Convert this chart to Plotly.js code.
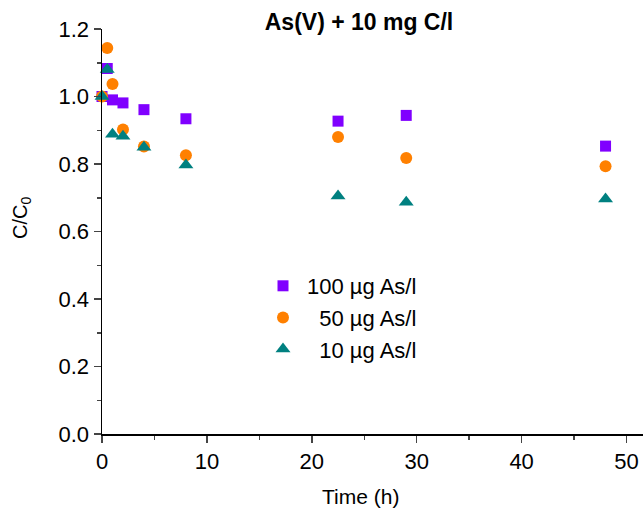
<!DOCTYPE html>
<html>
<head>
<meta charset="utf-8">
<script src="https://cdn.plot.ly/plotly-3.0.1.min.js"></script>
<style>html,body{margin:0;padding:0;background:#fff;}#chart{width:643px;height:511px;}</style>
</head>
<body>
<div id="chart"></div>
<script>
// Data
var timeH = [0, 0.5, 1, 2, 4, 8, 22.5, 29, 48];
var as100 = [1.00, 1.083, 0.990, 0.981, 0.961, 0.934, 0.927, 0.944, 0.853];
var as50  = [1.00, 1.144, 1.037, 0.902, 0.852, 0.826, 0.880, 0.818, 0.793];
var as10  = [1.00, 1.080, 0.888, 0.882, 0.850, 0.797, 0.705, 0.687, 0.696];
var seriesNames = ['100 \u00b5g As/l', '\u200750 \u00b5g As/l', '\u200710 \u00b5g As/l'];
var yTicks = [0, 0.2, 0.4, 0.6, 0.8, 1.0, 1.2];
var xTicks = [0, 10, 20, 30, 40, 50];

var font = 'Liberation Sans, Arial, sans-serif';
var traces = [
  {x: timeH, y: as100, name: seriesNames[0], mode: 'markers', type: 'scatter', cliponaxis: false,
   marker: {symbol: 'square', size: 11, color: '#8000ff'}},
  {x: timeH, y: as50, name: seriesNames[1], mode: 'markers', type: 'scatter', cliponaxis: false,
   marker: {symbol: 'circle', size: 12, color: '#ff8000'}},
  {x: timeH, y: as10, name: seriesNames[2], mode: 'markers', type: 'scatter', cliponaxis: false,
   marker: {symbol: 'triangle-up', size: 13, color: '#008080'}}
];

var layout = {
  width: 643, height: 511,
  margin: {l: 102, r: 0, t: 29, b: 77},
  paper_bgcolor: '#fff', plot_bgcolor: '#fff',
  font: {family: font, color: '#000', size: 22},
  title: {text: '<b>As(V) + 10 mg C/l</b>', font: {family: font, size: 23, color: '#000'},
          x: 359/643, xanchor: 'center', xref: 'container', y: 1 - 22/511, yanchor: 'middle'},
  xaxis: {range: [0, 51.57], tickvals: xTicks, ticks: 'outside', ticklen: 7, tickwidth: 1.5,
          showline: true, linecolor: '#000', linewidth: 1.5, showgrid: false, zeroline: false,
          tickfont: {size: 22}, minor: {dtick: 5, ticks: 'outside', ticklen: 4, tickwidth: 1.5, showgrid: false}},
  yaxis: {range: [0, 1.2], tickvals: yTicks, tickformat: '.1f', ticks: 'outside', ticklen: 7, tickwidth: 1.5,
          showline: true, linecolor: '#000', linewidth: 1.5, showgrid: false, zeroline: false,
          tickfont: {size: 22}, minor: {dtick: 0.1, ticks: 'outside', ticklen: 4, tickwidth: 1.5, showgrid: false}},
  annotations: [
    {text: 'Time (h)', xref: 'paper', yref: 'paper', x: (360-102)/541, y: -(497-434)/405,
     xanchor: 'center', yanchor: 'middle', showarrow: false, font: {size: 21}},
    {text: 'C/C<sub>0</sub>', xref: 'paper', yref: 'paper', x: -(102-21)/541, y: (434-218)/405,
     xanchor: 'center', yanchor: 'middle', showarrow: false, textangle: -90, font: {size: 20}}
  ],
  legend: {x: (259-102)/541, xanchor: 'left', y: (434-265)/405, yanchor: 'top',
           bgcolor: 'rgba(0,0,0,0)', font: {size: 22}, itemwidth: 38, tracegroupgap: 0},
  showlegend: true
};

Plotly.newPlot('chart', traces, layout, {displayModeBar: false, staticPlot: true});
</script>
</body>
</html>
